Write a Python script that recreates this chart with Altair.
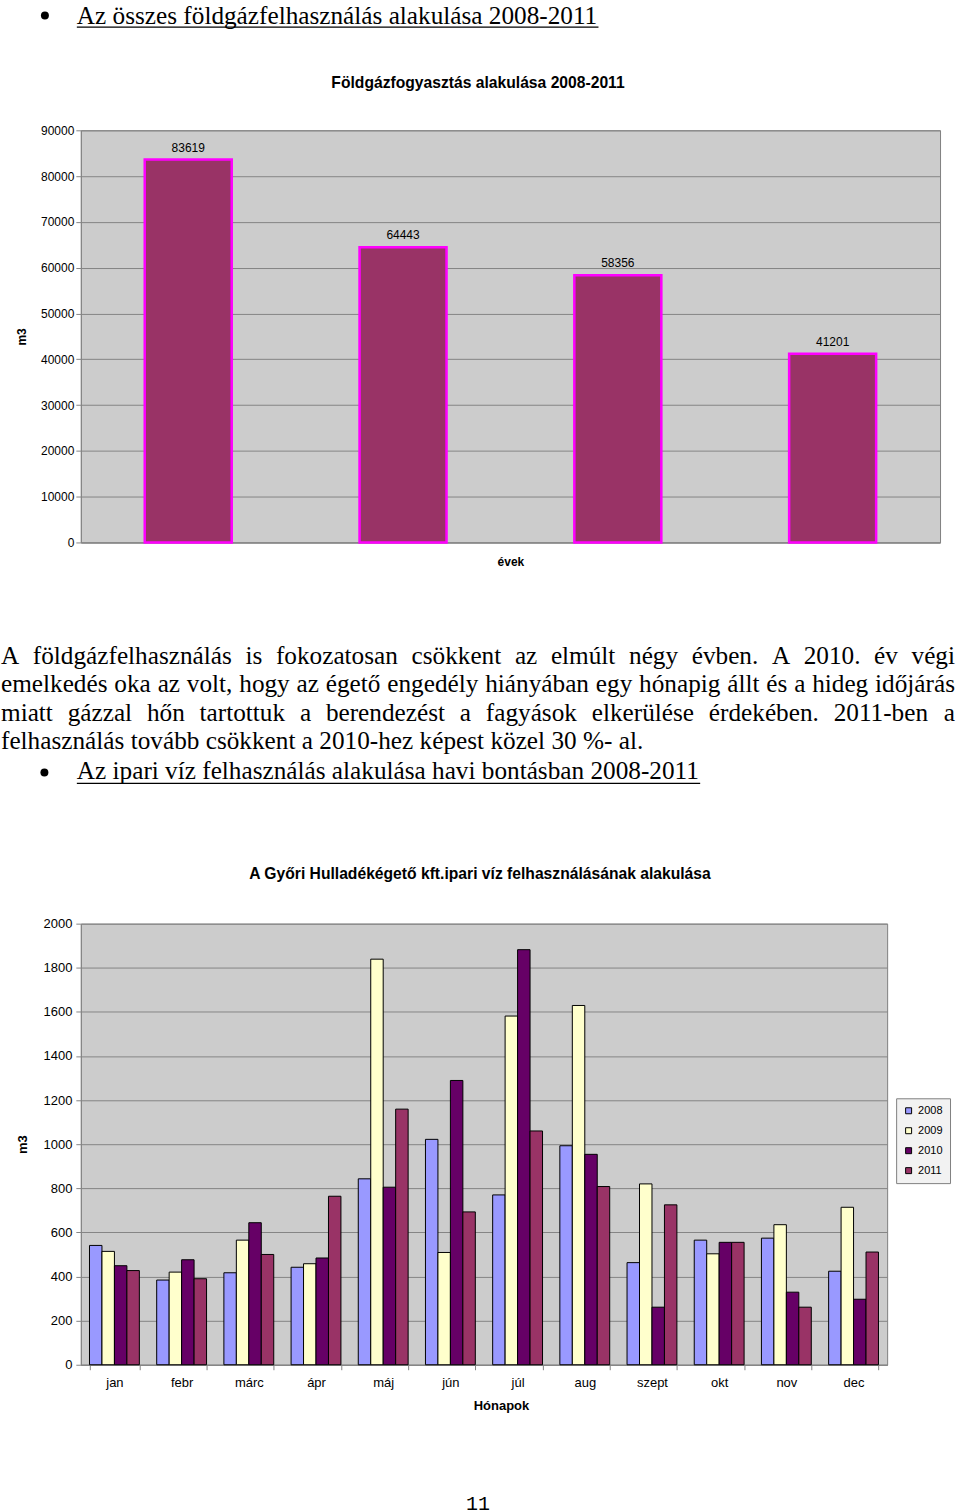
import altair as alt
import pandas as pd

# ---------------- data ----------------
YEARS = ["2008", "2009", "2010", "2011"]
GAS_VALUES = [83619, 64443, 58356, 41201]

MONTHS = ["jan", "febr", "márc", "ápr", "máj", "jún", "júl", "aug", "szept", "okt", "nov", "dec"]
W2008 = [541, 384, 417, 442, 843, 1022, 770, 993, 463, 565, 574, 424]
W2009 = [514, 420, 565, 458, 1839, 509, 1581, 1629, 820, 503, 635, 714]
W2010 = [449, 476, 644, 484, 805, 1289, 1882, 954, 261, 555, 329, 297]
W2011 = [427, 390, 500, 764, 1159, 693, 1060, 808, 725, 555, 261, 511]
YEAR_COLORS = ["#9999FF", "#FFFFCC", "#660066", "#993366"]

GAS_TICKS = list(range(0, 90001, 10000))
WATER_TICKS = list(range(0, 2001, 200))

HEADING_1 = "Az összes földgázfelhasználás alakulása 2008-2011"
HEADING_2 = "Az ipari víz felhasználás alakulása havi bontásban 2008-2011"
TITLE_1 = "Földgázfogyasztás alakulása 2008-2011"
TITLE_2 = "A Győri Hulladékégető kft.ipari víz felhasználásának alakulása"
PARAGRAPH = [
    "A földgázfelhasználás is fokozatosan csökkent az elmúlt négy évben. A 2010. év végi",
    "emelkedés oka az volt, hogy az égető engedély hiányában egy hónapig állt és a hideg időjárás",
    "miatt gázzal hőn tartottuk a berendezést a fagyások elkerülése érdekében. 2011-ben a",
    "felhasználás tovább csökkent a 2010-hez képest közel 30 %- al.",
]
PAGE_NUMBER = "11"

# ---------------- style / layout ----------------
SANS = "Liberation Sans"
SERIF = "Liberation Serif"
MONO = "Liberation Mono"
GRID = "#858585"
PLOT_BG = "#CCCCCC"

PLOT_X = 80          # page x of both plot areas
C1_TOP = 128         # page y of chart 1 plot top
PARA_TOP = 600       # page y of text block
PARA_H = 300
C2_TOP = 921         # page y of chart 2 plot top
BODY = 25.3          # body text size

# Times New Roman advance widths (1/1000 em) for justification
TNR = {" ": 250, ",": 250, ".": 250, "-": 333, "%": 833, "A": 722,
       "a": 444, "b": 500, "c": 444, "d": 500, "e": 444, "f": 333, "g": 500, "h": 500,
       "i": 278, "j": 278, "k": 500, "l": 278, "m": 778, "n": 500, "o": 500, "p": 500,
       "q": 500, "r": 333, "s": 389, "t": 278, "u": 500, "v": 500, "w": 722, "x": 500,
       "y": 500, "z": 444, "á": 444, "é": 444, "í": 278, "ó": 500, "ö": 500, "ő": 500,
       "ú": 500, "ü": 500, "ű": 500}


def tw(s, size):
    return sum(TNR.get(ch, 500) for ch in s) / 1000.0 * size


ONE = pd.DataFrame({"k": [0]})


def text_layer(txt, x, y, size, font=SANS, weight="normal", align="left"):
    return alt.Chart(ONE).mark_text(
        text=txt, font=font, fontSize=size, fontWeight=weight, align=align,
        baseline="alphabetic", color="black"
    ).encode(x=alt.value(x), y=alt.value(y))


def hline(x1, x2, y, width=1.3, opacity=1.0):
    return alt.Chart(ONE).mark_rule(color="black", strokeWidth=width, opacity=opacity).encode(
        x=alt.value(x1), x2=alt.value(x2), y=alt.value(y))


def bullet(x, y):
    return alt.Chart(ONE).mark_circle(size=64, color="black", opacity=1).encode(
        x=alt.value(x), y=alt.value(y))


def pin(y):
    # invisible guide that fixes the layout extent
    return alt.Chart(ONE).mark_rule(strokeWidth=0, opacity=0).encode(
        x=alt.value(-PLOT_X), x2=alt.value(960 - PLOT_X), y=alt.value(y))


# ---------------- chart 1 ----------------
gas_df = pd.DataFrame({"ev": YEARS, "m3": GAS_VALUES})
base1 = alt.Chart(gas_df)
x1 = alt.X("ev:N", sort=YEARS,
           scale=alt.Scale(paddingInner=0.595, paddingOuter=0.2975),
           axis=alt.Axis(title="évek", labels=False, ticks=False, grid=False,
                         domainColor=GRID, titleFont=SANS, titleFontSize=12,
                         titleFontWeight="bold", titleColor="black", titlePadding=14))
y1 = alt.Y("m3:Q", scale=alt.Scale(domain=[0, 90000], nice=False),
           axis=alt.Axis(title="m3", values=GAS_TICKS, format="d", grid=True, gridColor=GRID,
                         domainColor=GRID, tickColor=GRID, tickSize=5, labelFont=SANS,
                         labelFontSize=12, labelColor="black", labelPadding=2,
                         titleFont=SANS, titleFontSize=12, titleFontWeight="bold",
                         titleColor="black", titlePadding=12))
bars1 = base1.mark_bar(fill="#993366", stroke="#FF00FF", strokeWidth=2.5).encode(x=x1, y=y1)
labels1 = base1.mark_text(baseline="bottom", dy=-5, font=SANS, fontSize=12, color="black").encode(
    x=alt.X("ev:N", sort=YEARS), y=alt.Y("m3:Q"), text=alt.Text("m3:Q", format="d"))

H1_BASE = 21
chart1 = alt.layer(
    bars1, labels1,
    bullet(44 - PLOT_X, 13 - C1_TOP),
    text_layer(HEADING_1, 76 - PLOT_X, H1_BASE - C1_TOP, BODY, font=SERIF),
    hline(76 - PLOT_X, 76 - PLOT_X + tw(HEADING_1, BODY), H1_BASE + 3.5 - C1_TOP),
    text_layer(TITLE_1, 478 - PLOT_X, 86 - C1_TOP, 15.7, weight="bold", align="center"),
    pin(-C1_TOP),
    pin(PARA_TOP - C1_TOP),
).properties(width=861, height=413,
             view=alt.ViewBackground(fill=PLOT_BG, stroke="#808080", strokeWidth=1))

# ---------------- text block ----------------
BASELINES = [661.5, 690, 718.5, 747]
JUSTIFY = [True, True, True, False]
PARA_LEFT, PARA_RIGHT = 0, 956
rows = []
for line, yb, just in zip(PARAGRAPH, BASELINES, JUSTIFY):
    words = line.split(" ")
    widths = [tw(w, BODY) for w in words]
    gap = (PARA_RIGHT - PARA_LEFT - sum(widths)) / (len(words) - 1) if just else tw(" ", BODY)
    xx = PARA_LEFT
    for w, wd in zip(words, widths):
        rows.append({"word": w, "px": xx - PLOT_X, "py": yb - PARA_TOP})
        xx += wd + gap
words_df = pd.DataFrame(rows)
words = alt.Chart(words_df).mark_text(
    font=SERIF, fontSize=BODY, align="left", baseline="alphabetic", color="black"
).encode(x=alt.X("px:Q", scale=None, axis=None), y=alt.Y("py:Q", scale=None, axis=None),
         text="word:N")

para = alt.layer(
    words,
    bullet(43.5 - PLOT_X, 770.5 - PARA_TOP),
    text_layer(HEADING_2, 76 - PLOT_X, 777.5 - PARA_TOP, BODY, font=SERIF),
    hline(76 - PLOT_X, 76 - PLOT_X + tw(HEADING_2, BODY), 781.5 - PARA_TOP),
    text_layer(TITLE_2, 480 - PLOT_X, 877 - PARA_TOP, 15.7, weight="bold", align="center"),
).properties(width=880, height=PARA_H, view=alt.ViewBackground(strokeWidth=0))

# ---------------- chart 2 ----------------
wrows = []
for i, m in enumerate(MONTHS):
    for yr, vals in zip(YEARS, [W2008, W2009, W2010, W2011]):
        wrows.append({"honap": m, "ev": yr, "m3": vals[i]})
water_df = pd.DataFrame(wrows)

# legend is placed by the concat's shared legend group (origin = chart 1 plot origin)
LEG_X = 897 - PLOT_X
LEG_Y = 1098 - C1_TOP

bars2 = alt.Chart(water_df).mark_bar(stroke="black", strokeWidth=1).encode(
    x=alt.X("honap:N", sort=MONTHS,
            scale=alt.Scale(paddingInner=0.258, paddingOuter=0.129),
            axis=alt.Axis(title="Hónapok", tickBand="extent", tickSize=5, tickColor=GRID,
                          domainColor=GRID, grid=False, labelAngle=0, labelFont=SANS,
                          labelFontSize=13, labelColor="black", labelPadding=7,
                          titleFont=SANS, titleFontSize=13, titleFontWeight="bold",
                          titleColor="black", titlePadding=10, titleX=421)),
    xOffset=alt.XOffset("ev:N", sort=YEARS, scale=alt.Scale(paddingInner=0, paddingOuter=0)),
    y=alt.Y("m3:Q", scale=alt.Scale(domain=[0, 2000], nice=False),
            axis=alt.Axis(title="m3", values=WATER_TICKS, format="d", grid=True,
                          gridColor=GRID, domainColor=GRID, tickColor=GRID, tickSize=5,
                          labelFont=SANS, labelFontSize=13, labelColor="black",
                          labelPadding=4, titleFont=SANS, titleFontSize=13,
                          titleFontWeight="bold", titleColor="black", titlePadding=14)),
    color=alt.Color("ev:N", sort=YEARS,
                    scale=alt.Scale(domain=YEARS, range=YEAR_COLORS),
                    legend=alt.Legend(title=None, orient="none", legendX=LEG_X, legendY=LEG_Y,
                                      symbolType="square", symbolSize=36,
                                      symbolStrokeColor="black", symbolStrokeWidth=1,
                                      labelFont=SANS, labelFontSize=11, labelColor="black",
                                      labelOffset=4, padding=7, rowPadding=8,
                                      fillColor="#F2F2F2", strokeColor="#7F7F7F")),
)

chart2 = alt.layer(
    bars2,
    pin(PARA_TOP + PARA_H - C2_TOP),
    text_layer(PAGE_NUMBER, 478 - PLOT_X, 1509 - C2_TOP, 20, font=MONO, align="center"),
).properties(width=808, height=442,
             view=alt.ViewBackground(fill=PLOT_BG, stroke="#808080", strokeWidth=1))

chart = alt.vconcat(chart1, para, chart2, spacing=0).properties(
    padding=0,
    background="white",
)

chart.save("out.html", embed_options={"renderer": "svg", "actions": False})
